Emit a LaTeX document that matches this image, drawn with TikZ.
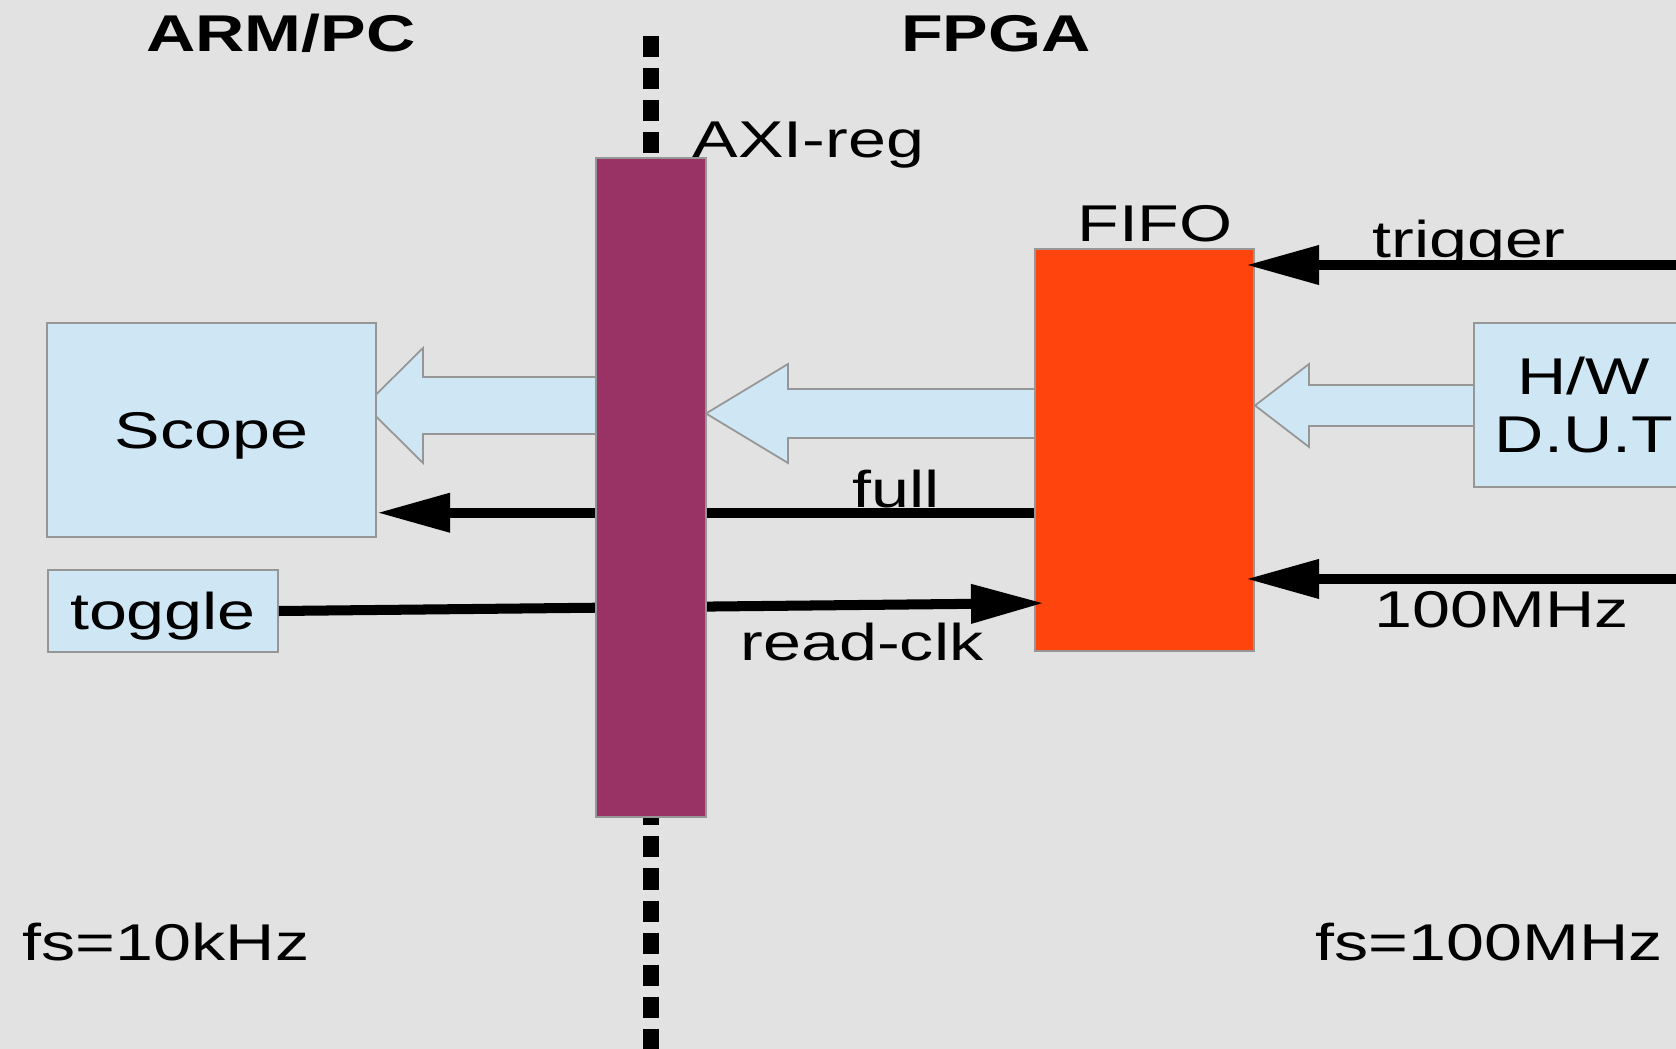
\documentclass[tikz,border=0pt]{standalone}
\usepackage{fontspec}
\setmainfont[FakeStretch=1.32]{Liberation Sans}
\usetikzlibrary{arrows.meta}
\usepackage{xcolor}
\definecolor{slidebg}  {RGB}{226,226,226}
\definecolor{boxblue}  {RGB}{207,230,244}
\definecolor{edgegray} {RGB}{150,150,150}
\definecolor{axipurple}{RGB}{153, 51,102}
\definecolor{fifored}  {RGB}{255, 68, 14}

% hollow block arrow: tip x, axis y, head base x, tail x, shaft half, head half
\newcommand{\fatarrow}[6]{%
  \filldraw[fat] (#1,#2) -- (#3,#2-#6) -- (#3,#2-#5) -- (#4,#2-#5)
    -- (#4,#2+#5) -- (#3,#2+#5) -- (#3,#2+#6) -- cycle;}

\begin{document}
\begin{tikzpicture}[
    x=0.01cm, y=-0.01cm,
    every node/.style={font=\fontsize{14.7}{16.5}\selectfont},
    block/.style={draw=edgegray, fill=boxblue, line width=0.5pt, inner sep=0pt, align=center, text depth=0pt},
    txt/.style={anchor=base, inner sep=0pt},
    title/.style={txt, font=\fontsize{14.7}{16.5}\selectfont\bfseries},
    fat/.style={fill=boxblue, draw=edgegray, line width=0.5pt},
    sig/.style={line width=2.85pt, -{Triangle[length=7.3mm,width=3.7mm]}},
    wire/.style={line width=2.85pt},
    divider/.style={line width=4.5pt, dash pattern=on 2.1mm off 1.1mm}
]
    \fill[slidebg] (0,0) rectangle (1676,1049);
    \path[use as bounding box] (0,0) rectangle (1676,1049);
    \clip (0,0) rectangle (1676,1049);

    \draw[divider] (651,36) -- (651,1060);

    \node[title] (arm) at (281,52) {ARM/PC};
    \node[title] (fpga) at (996,52) {FPGA};

    \fatarrow{365}{405.5}{423}{600}{28.5}{57.5}
    \fatarrow{706}{413.5}{788}{1036}{24.5}{49.5}
    \fatarrow{1255}{405.5}{1309}{1475}{20.5}{41.5}

    \node[block, minimum width=3.29cm, minimum height=2.14cm] (scope) at (211.5,430) {Scope};
    \node[block, minimum width=2.30cm, minimum height=0.82cm] (toggle) at (163,611) {toggle};
    \node[block, fill=fifored, minimum width=2.19cm, minimum height=4.02cm] (fifo) at (1144.5,450) {};
    \node[block, minimum width=2.20cm, minimum height=1.64cm] (dut) at (1584,405) {H/W\\D.U.T};
    \coordinate (edge) at (1690,0);

    \node[txt] (fifolbl) at (1155,242) {FIFO};
    \node[txt] (triglbl) at (1469,258) {trigger};
    \node[txt] (fulllbl) at (896,508) {full};
    \node[txt] (clklbl) at (862,660) {read-clk};
    \node[txt] (fastlbl) at (1502,627) {100MHz};
    \node[txt] (fsarm) at (166,960) {fs=10kHz};
    \node[txt] (fsfpga) at (1489,960) {fs=100MHz};

    \coordinate (fullR) at ([yshift=-6.27mm]fifo.west);
    \coordinate (clkin) at ([xshift=1mm,yshift=-1.53cm]fifo.west);
    \coordinate (trigin) at ([xshift=-0.9mm,yshift=-1.7mm]fifo.north east);
    \coordinate (fastin) at ([xshift=-0.9mm,yshift=7.3mm]fifo.south east);

    \draw[sig] (fullR) -- (fullR -| scope.east);
    \draw[sig] (toggle.east) -- (clkin);
    \draw[sig] (trigin -| edge) -- (trigin);
    \draw[sig] (fastin -| edge) -- (fastin);

    \node[block, fill=axipurple, minimum width=1.10cm, minimum height=6.59cm] (axi) at (651,487.5) {};
    \node[txt, anchor=base west] (axilbl) at (692,158) {AXI-reg};
\end{tikzpicture}
\end{document}
